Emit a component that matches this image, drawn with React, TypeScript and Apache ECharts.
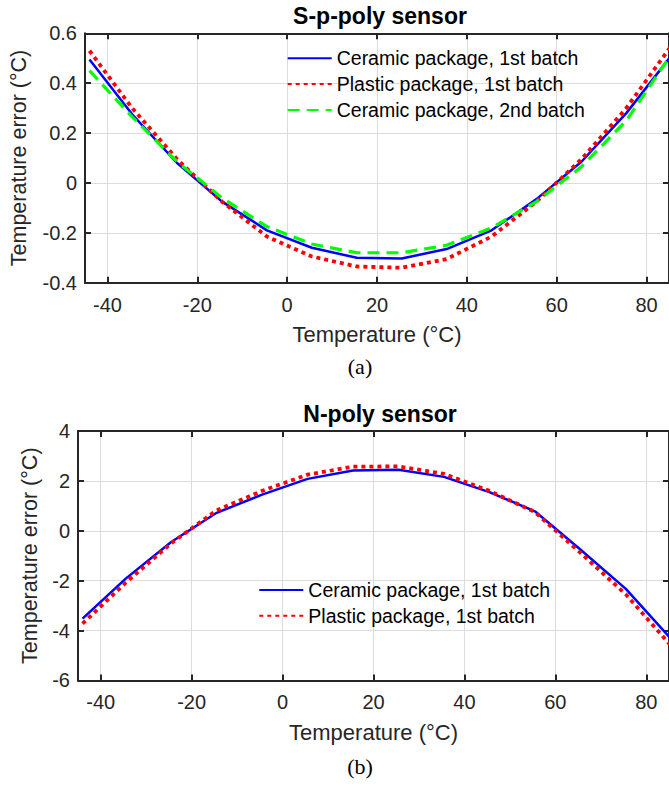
import React, { useEffect, useRef } from "react";
import * as echarts from "echarts";

const temps = [-44, -34.5, -24.5, -14.5, -4.5, 5.5, 15.5, 25.5, 35.5, 45.5, 55.5, 65.5, 75.5, 85.5];
const xTicks = [-40, -20, 0, 20, 40, 60, 80];

const spCeramic1 = [0.495, 0.275, 0.08, -0.075, -0.19, -0.26, -0.3, -0.303, -0.265, -0.19, -0.065, 0.085, 0.28, 0.51];
const spPlastic1 = [0.53, 0.3, 0.095, -0.075, -0.215, -0.295, -0.335, -0.34, -0.305, -0.215, -0.075, 0.095, 0.3, 0.55];
const spCeramic2 = [0.45, 0.265, 0.085, -0.06, -0.175, -0.245, -0.28, -0.28, -0.25, -0.18, -0.075, 0.065, 0.25, 0.515];

const nCeramic1 = [-3.52, -1.92, -0.45, 0.72, 1.45, 2.08, 2.42, 2.45, 2.16, 1.55, 0.78, -0.75, -2.33, -4.35];
const nPlastic1 = [-3.72, -2.08, -0.5, 0.82, 1.6, 2.25, 2.57, 2.58, 2.28, 1.6, 0.75, -0.88, -2.55, -4.62];

const names = ["Ceramic package, 1st batch", "Plastic package, 1st batch", "Ceramic package, 2nd batch"];

const FONT = "'Liberation Sans', Arial, sans-serif";
const AX = "#262626";
const GRIDC = "#dcdcdc";

const pairs = (ys: number[]) => temps.map((t, i) => [t, ys[i]]);

export default function App() {
  const ref = useRef<HTMLDivElement>(null);
  useEffect(() => {
    document.body.style.margin = "0";
    const chart = echarts.init(ref.current!, undefined, { renderer: "svg" });

    const gridDefs = [
      { left: 78, top: 33.3, width: 594, height: 249.4 },
      { left: 78, top: 431, width: 594, height: 249.4 },
    ];

    const bottomX = (gi: number) => ({
      type: "value",
      gridIndex: gi,
      position: "bottom",
      min: -45,
      max: 85,
      name: "Temperature (°C)",
      nameLocation: "middle",
      nameGap: 41,
      nameTextStyle: { fontFamily: FONT, fontSize: 22, color: AX },
      axisLine: { show: true, onZero: false, lineStyle: { color: AX, width: 2 } },
      axisTick: { show: true, inside: true, length: 6, customValues: xTicks, lineStyle: { color: AX, width: 2 } },
      axisLabel: { customValues: xTicks, fontFamily: FONT, fontSize: 20, color: AX, margin: 12 },
      splitLine: { show: true, lineStyle: { color: GRIDC, width: 1 } },
    });
    const topX = (gi: number) => ({
      type: "value",
      gridIndex: gi,
      position: "top",
      min: -45,
      max: 85,
      axisLine: { show: true, onZero: false, lineStyle: { color: AX, width: 2 } },
      axisTick: { show: true, inside: true, length: 6, customValues: xTicks, lineStyle: { color: AX, width: 2 } },
      axisLabel: { show: false, customValues: xTicks },
      splitLine: { show: false },
    });
    const leftY = (gi: number, min: number, max: number, interval: number, gap: number) => ({
      type: "value",
      gridIndex: gi,
      position: "left",
      min,
      max,
      interval,
      name: "Temperature error (°C)",
      nameLocation: "middle",
      nameGap: gap,
      nameTextStyle: { fontFamily: FONT, fontSize: 21.5, color: AX },
      axisLine: { show: true, onZero: false, lineStyle: { color: AX, width: 2 } },
      axisTick: { show: true, inside: true, length: 6, lineStyle: { color: AX, width: 2 } },
      axisLabel: { fontFamily: FONT, fontSize: 20, color: AX, margin: 8 },
      splitLine: { show: true, lineStyle: { color: GRIDC, width: 1 } },
    });
    const rightY = (gi: number, min: number, max: number, interval: number) => ({
      type: "value",
      gridIndex: gi,
      position: "right",
      min,
      max,
      interval,
      axisLine: { show: true, onZero: false, lineStyle: { color: AX, width: 2 } },
      axisTick: { show: true, inside: true, length: 6, lineStyle: { color: AX, width: 2 } },
      axisLabel: { show: false },
      splitLine: { show: false },
    });

    const blue = { color: "#0000ff", width: 2.5, type: "solid" };
    const red = { color: "#ff0000", width: 3.8, type: [4, 4] };
    const green = { color: "#00ff00", width: 3.2, type: [12, 7] };

    const mk = (name: string, data: number[], ls: any, gi: number) => ({
      type: "line",
      name,
      xAxisIndex: gi * 2,
      yAxisIndex: gi * 2,
      data: pairs(data),
      symbol: "none",
      showSymbol: false,
      clip: true,
      lineStyle: ls,
      itemStyle: { color: ls.color },
      emphasis: { disabled: true },
    });

    const legendBase = {
      orient: "vertical",
      itemWidth: 44,
      itemHeight: 20,
      itemGap: 5.8,
      padding: 0,
      selectedMode: false,
      itemStyle: { opacity: 0 },
      textStyle: { fontFamily: FONT, fontSize: 19.5, color: "#000", lineHeight: 20 },
    };

    chart.setOption({
      animation: false,
      backgroundColor: "#ffffff",
      title: [
        {
          text: "S-p-poly sensor",
          left: 375,
          textAlign: "center",
          top: -1,
          textStyle: { fontFamily: FONT, fontSize: 23, fontWeight: "bold", color: "#000" },
        },
        {
          text: "N-poly sensor",
          left: 375,
          textAlign: "center",
          top: 397,
          textStyle: { fontFamily: FONT, fontSize: 23, fontWeight: "bold", color: "#000" },
        },
      ],
      grid: gridDefs.map((g) => ({ ...g, containLabel: false })),
      xAxis: [bottomX(0), topX(0), bottomX(1), topX(1)],
      yAxis: [leftY(0, -0.4, 0.6, 0.2, 55), rightY(0, -0.4, 0.6, 0.2), leftY(1, -6, 4, 2, 31), rightY(1, -6, 4, 2)],
      legend: [
        { ...legendBase, left: 286.7, top: 48.3, data: names },
        { ...legendBase, left: 258.3, top: 580, data: [names[0], names[1]] },
      ],
      series: [
        mk(names[0], spCeramic1, blue, 0),
        mk(names[1], spPlastic1, red, 0),
        mk(names[2], spCeramic2, green, 0),
        mk(names[0], nCeramic1, blue, 1),
        mk(names[1], nPlastic1, red, 1),
      ],
      graphic: [
        {
          type: "text",
          x: 360,
          y: 366,
          style: {
            text: "(a)",
            font: "22px 'Liberation Serif', 'Times New Roman', serif",
            fill: "#000",
            align: "center",
            verticalAlign: "middle",
          },
        },
        {
          type: "text",
          x: 360,
          y: 766,
          style: {
            text: "(b)",
            font: "22px 'Liberation Serif', 'Times New Roman', serif",
            fill: "#000",
            align: "center",
            verticalAlign: "middle",
          },
        },
      ],
    });
    return () => chart.dispose();
  }, []);
  return <div ref={ref} style={{ width: 669, height: 786 }} />;
}
